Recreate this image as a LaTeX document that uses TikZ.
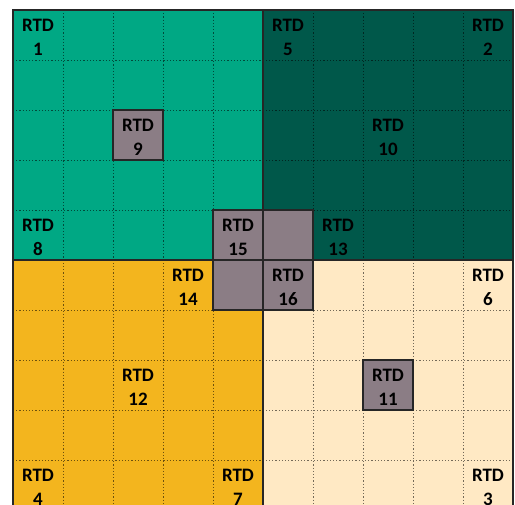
\documentclass[tikz,border=0pt]{standalone}
\usepackage{fontspec}
\setmainfont{Carlito}
\definecolor{qgreen}{RGB}{0,168,132}
\definecolor{qdark}{RGB}{0,88,74}
\definecolor{qorange}{RGB}{243,181,30}
\definecolor{qcream}{RGB}{255,233,196}
\definecolor{qgray}{RGB}{139,125,133}
\definecolor{edge}{RGB}{38,38,38}
\tikzset{
  gridline/.style={draw=black, opacity=0.55, line width=0.9pt, dash pattern=on 1.2pt off 2pt},
  solidedge/.style={draw=edge, line width=1.4pt},
  graybox/.style={fill=qgray, draw=edge, line width=1.4pt},
  lbl/.style={align=center, font=\bfseries\fontsize{19}{24}\selectfont, text=black, inner sep=0pt}
}
\begin{document}
\begin{tikzpicture}[x=1pt,y=-1pt]
\useasboundingbox (0,0) rectangle (515,505);
\fill[white] (0,0) rectangle (515,505);
\begin{scope}
\clip (0,0) rectangle (515,505);
\fill[qgreen] (13,10) rectangle (263,260);
\fill[qdark] (263,10) rectangle (513,260);
\fill[qorange] (13,260) rectangle (263,510);
\fill[qcream] (263,260) rectangle (513,510);
\foreach \i in {1,...,9}{
  \draw[gridline] (13+50*\i,10) -- (13+50*\i,510);
  \draw[gridline] (13,10+50*\i) -- (513,10+50*\i);
}
\draw[solidedge] (13,510) -- (13,10) -- (513,10) -- (513,510);
\draw[solidedge] (263,10) -- (263,510);
\draw[solidedge] (13,260) -- (513,260);
\draw[graybox] (113,110) rectangle (163,160);
\draw[graybox] (213,210) rectangle (263,260);
\draw[graybox] (263,210) rectangle (313,260);
\draw[graybox] (213,260) rectangle (263,310);
\draw[graybox] (263,260) rectangle (313,310);
\draw[graybox] (363,360) rectangle (413,410);
\end{scope}
\node[lbl] (r1) at (38,37) {RTD\\1};
\node[lbl] (r5) at (288,37) {RTD\\5};
\node[lbl] (r2) at (488,37) {RTD\\2};
\node[lbl] (r9) at (138,137) {RTD\\9};
\node[lbl] (r10) at (388,137) {RTD\\10};
\node[lbl] (r8) at (38,237) {RTD\\8};
\node[lbl] (r15) at (238,237) {RTD\\15};
\node[lbl] (r13) at (338,237) {RTD\\13};
\node[lbl] (r14) at (188,287) {RTD\\14};
\node[lbl] (r16) at (288,287) {RTD\\16};
\node[lbl] (r6) at (488,287) {RTD\\6};
\node[lbl] (r12) at (138,387) {RTD\\12};
\node[lbl] (r11) at (388,387) {RTD\\11};
\node[lbl] (r4) at (38,487) {RTD\\4};
\node[lbl] (r7) at (238,487) {RTD\\7};
\node[lbl] (r3) at (488,487) {RTD\\3};
\end{tikzpicture}
\end{document}
